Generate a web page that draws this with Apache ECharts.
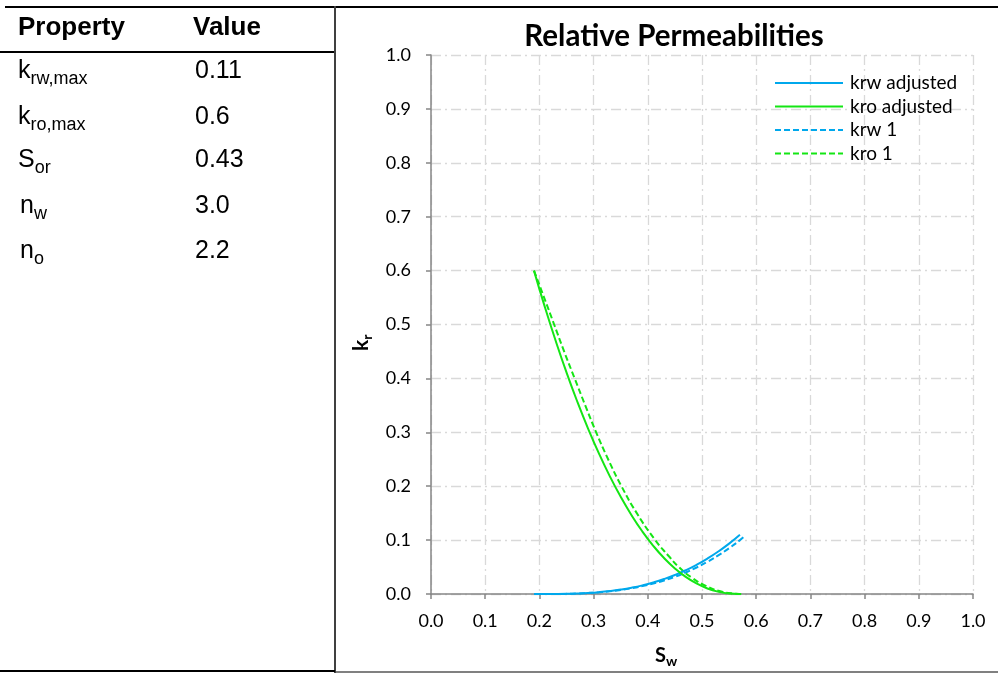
<!DOCTYPE html>
<html>
<head>
<meta charset="utf-8">
<script src="https://cdn.jsdelivr.net/npm/echarts@6/dist/echarts.min.js"></script>
<style>
  html, body { margin: 0; padding: 0; background: #fff; }
  #wrap { position: relative; width: 998px; height: 673px; overflow: hidden; }
  #chart { position: absolute; left: 0; top: 0; width: 998px; height: 673px; }
  .ln { position: absolute; }
  .t { position: absolute; font-family: "Liberation Sans", Arial, sans-serif; line-height: 1; color: #000; white-space: nowrap; }
  .h { font-weight: bold; font-size: 26px; }
  .r { font-size: 25px; }
  .r sub { font-size: 18px; vertical-align: -6px; line-height: 0; }
  .an { position: absolute; font-family: Lato, "Open Sans", sans-serif; font-weight: bold; font-size: 20px; line-height: 1; white-space: nowrap; }
  .an sub { font-size: 14px; vertical-align: -4px; line-height: 0; }
</style>
</head>
<body>
<div id="wrap">
  <div id="chart"></div>
  <div class="ln" style="left:5px;top:6px;width:993px;height:2px;background:#000"></div>
  <div class="ln" style="left:0;top:51px;width:335px;height:2px;background:#000"></div>
  <div class="ln" style="left:334px;top:6px;width:2px;height:667px;background:#404040"></div>
  <div class="ln" style="left:0;top:670px;width:335px;height:2px;background:#000"></div>
  <div class="ln" style="left:336px;top:671px;width:662px;height:2px;background:#808080"></div>

  <div class="t h" style="left:18px;top:13px">Property</div>
  <div class="t h" style="left:193px;top:13px">Value</div>

  <div class="t r" style="left:18px;top:57px">k<sub>rw,max</sub></div>
  <div class="t r" style="left:195px;top:57px">0.11</div>
  <div class="t r" style="left:18px;top:103px">k<sub>ro,max</sub></div>
  <div class="t r" style="left:195px;top:103px">0.6</div>
  <div class="t r" style="left:18px;top:146px">S<sub>or</sub></div>
  <div class="t r" style="left:195px;top:146px">0.43</div>
  <div class="t r" style="left:20px;top:192px">n<sub>w</sub></div>
  <div class="t r" style="left:195px;top:192px">3.0</div>
  <div class="t r" style="left:20px;top:237px">n<sub>o</sub></div>
  <div class="t r" style="left:195px;top:237px">2.2</div>

  <div class="an" style="left:655px;top:644px">S<sub>w</sub></div>
  <div class="an" style="left:349px;top:351px;font-size:21px;transform-origin:0 0;transform:rotate(-90deg)">k<sub>r</sub></div>
</div>
<script>
// ---- data ----
var swAdjusted = [0.19, 0.21, 0.23, 0.25, 0.27, 0.29, 0.31, 0.33, 0.35, 0.37, 0.39, 0.41, 0.43, 0.45, 0.47, 0.49, 0.51, 0.53, 0.55, 0.57];
var krwAdjusted = [0, 0.00002, 0.00013, 0.00043, 0.00103, 0.00201, 0.00346, 0.0055, 0.00821, 0.01169, 0.01604, 0.02135, 0.02771, 0.03523, 0.04401, 0.05413, 0.06569, 0.07879, 0.09353, 0.11];
var kroAdjusted = [0.6, 0.5327, 0.4698, 0.4111, 0.3567, 0.3065, 0.2603, 0.2183, 0.1803, 0.1462, 0.1159, 0.0895, 0.0667, 0.0475, 0.0318, 0.0195, 0.0103, 0.0042, 0.0009, 0];

var swKrw1 = [0.19, 0.21, 0.23, 0.25, 0.27, 0.29, 0.31, 0.33, 0.35, 0.37, 0.39, 0.41, 0.43, 0.45, 0.47, 0.49, 0.51, 0.53, 0.55, 0.57, 0.578];
var krw1 = [0, 0.00001, 0.00012, 0.00039, 0.00093, 0.00182, 0.00315, 0.005, 0.00746, 0.01062, 0.01457, 0.01939, 0.02517, 0.032, 0.03997, 0.04916, 0.05966, 0.07156, 0.08495, 0.0999, 0.107];

var swKro1 = [0.19, 0.2087, 0.2272, 0.2456, 0.265, 0.2846, 0.3047, 0.3268, 0.3514, 0.3797, 0.4137, 0.4389, 0.4572, 0.4817, 0.507, 0.5339, 0.5563, 0.578];
var kro1 = [0.6, 0.55, 0.5, 0.45, 0.4, 0.35, 0.3, 0.25, 0.2, 0.15, 0.1, 0.07, 0.05, 0.03, 0.015, 0.005, 0.001, 0];

var seriesNames = ['krw adjusted', 'kro adjusted', 'krw 1', 'kro 1'];

function pairs(xs, ys) { return xs.map(function (x, i) { return [x, ys[i]]; }); }

var BLUE = '#00a8ec', GREEN = '#14e614';
var FONT = 'Lato, "Open Sans", sans-serif';
var gridLine = { show: true, lineStyle: { color: '#d9d9d9', width: 1.3, type: [10, 4, 2, 4] } };
var axisLine = { show: true, onZero: false, lineStyle: { color: '#868686', width: 1.5 } };
var tickStyle = { show: true, length: 5, inside: false, lineStyle: { color: '#868686', width: 1.5 } };
var lblFont = { fontFamily: FONT, fontSize: 18, color: '#000' };

var chart = echarts.init(document.getElementById('chart'), null, { renderer: 'canvas' });
chart.setOption({
  animation: false,
  backgroundColor: 'transparent',
  title: {
    text: 'Relative Permeabilities',
    left: 669, top: 16, textAlign: 'center',
    textStyle: { fontFamily: FONT, fontWeight: 'bold', fontSize: 29.5, color: '#000' }
  },
  legend: {
    orient: 'vertical', left: 769, top: 68,
    itemWidth: 68, itemHeight: 20, itemGap: 3.5,
    data: seriesNames,
    itemStyle: { opacity: 0 },
    lineStyle: { width: 2 },
    textStyle: { fontFamily: FONT, fontSize: 19, lineHeight: 20, color: '#000', padding: [0, 0, 0, 2] }
  },
  grid: { left: 431, right: 25, top: 55, bottom: 79, containLabel: false },
  xAxis: {
    type: 'value', min: 0, max: 1, interval: 0.1,
    axisLine: axisLine, axisTick: tickStyle, splitLine: gridLine,
    axisLabel: Object.assign({ margin: 18, formatter: function (v) { return v.toFixed(1); } }, lblFont)
  },
  yAxis: {
    type: 'value', min: 0, max: 1, interval: 0.1,
    axisLine: axisLine, axisTick: tickStyle, splitLine: gridLine,
    axisLabel: Object.assign({ margin: 20, formatter: function (v) { return v.toFixed(1); } }, lblFont)
  },
  series: [
    { name: seriesNames[0], type: 'line', data: pairs(swAdjusted, krwAdjusted), smooth: true, symbol: 'none', color: BLUE, lineStyle: { color: BLUE, width: 2 }, z: 3 },
    { name: seriesNames[1], type: 'line', data: pairs(swAdjusted, kroAdjusted), smooth: true, symbol: 'none', color: GREEN, lineStyle: { color: GREEN, width: 2 }, z: 3 },
    { name: seriesNames[2], type: 'line', data: pairs(swKrw1, krw1), smooth: true, symbol: 'none', color: BLUE, lineStyle: { color: BLUE, width: 2, type: [6, 3] }, z: 2 },
    { name: seriesNames[3], type: 'line', data: pairs(swKro1, kro1), smooth: true, symbol: 'none', color: GREEN, lineStyle: { color: GREEN, width: 2, type: [6, 3] }, z: 2 }
  ]
});
</script>
</body>
</html>
